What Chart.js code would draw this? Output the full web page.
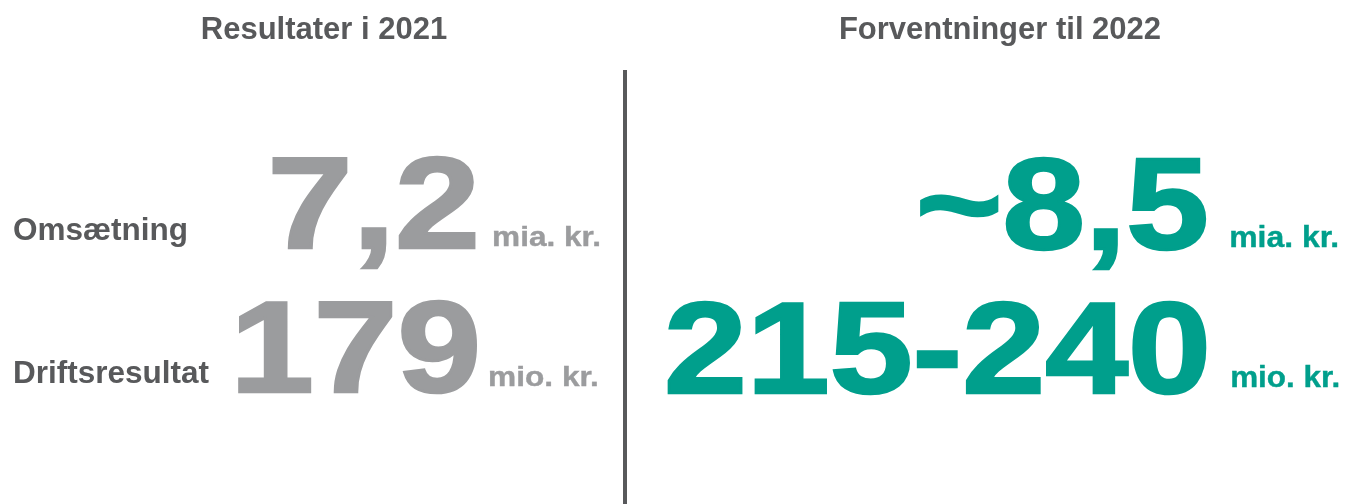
<!DOCTYPE html>
<html>
<head>
<meta charset="utf-8">
<script src="https://cdn.jsdelivr.net/npm/chart.js@4.4.1/dist/chart.umd.min.js"></script>
<style>
  html, body { margin: 0; padding: 0; background: #ffffff; }
  #wrap { width: 1346px; height: 504px; }
</style>
</head>
<body>
<div id="wrap"><canvas id="c" width="1346" height="504"></canvas></div>
<script>
// ---- data ----
const periodLabels = ['Resultater i 2021', 'Forventninger til 2022'];
const rowLabels = ['Omsætning', 'Driftsresultat'];
const results2021 = ['7,2', '179'];
const expectations2022 = ['~8,5', '215-240'];
const units = ['mia. kr.', 'mio. kr.'];

// ---- styling / layout (not data) ----
const FONT = '"Liberation Sans", Arial, Helvetica, sans-serif';
const labelColor = '#58595b';
const greyColor = '#9b9c9e';
const tealColor = '#009f8c';

const layout = {
  headerX: [324, 1000],
  headerBaseline: 39,
  headerSize: 31,
  rowLabelX: 13,
  rowLabelSize: 31.5,
  rowLabelDy: 11,
  divider: { x: 623, top: 70, width: 4 },
  bigSize: 129,
  bigStroke: 2.6,
  // per column, per row: [inkLeft, inkRight, baselineDy]
  values: [
    [[272, 476, 20], [238, 477, 21.5]],
    [[920, 1207, 21], [667, 1207, 22]]
  ],
  unitSize: [28.5, 30],
  unitStroke: 0.4,
  units: [
    [[493, 599, 17], [489, 597, 14]],
    [[1230, 1338, 18], [1231, 1339, 15]]
  ]
};

function fitText(ctx, text, size, left, right, baseline, color, lw) {
  ctx.save();
  ctx.font = 'bold ' + size + 'px ' + FONT;
  ctx.textAlign = 'left';
  ctx.textBaseline = 'alphabetic';
  ctx.fillStyle = color;
  ctx.strokeStyle = color;
  ctx.lineJoin = 'miter';
  ctx.miterLimit = 4;
  ctx.lineWidth = lw;
  const m = ctx.measureText(text);
  const abl = m.actualBoundingBoxLeft, abr = m.actualBoundingBoxRight;
  const sx = (right - left) / (abl + abr + lw);
  ctx.translate(left, baseline - lw / 2);
  ctx.scale(sx, 1);
  ctx.fillText(text, abl + lw / 2, 0);
  if (lw > 0) ctx.strokeText(text, abl + lw / 2, 0);
  ctx.restore();
}

const kpiPlugin = {
  id: 'kpi',
  afterDraw(chart) {
    const { ctx, scales: { x, y } } = chart;
    ctx.save();
    // headers
    ctx.font = 'bold ' + layout.headerSize + 'px ' + FONT;
    ctx.fillStyle = labelColor;
    ctx.textAlign = 'center';
    ctx.textBaseline = 'alphabetic';
    periodLabels.forEach((t, i) => {
      ctx.fillText(t, x.getPixelForValue(layout.headerX[i]), layout.headerBaseline);
    });
    // divider
    ctx.fillStyle = labelColor;
    const dx = x.getPixelForValue(layout.divider.x);
    ctx.fillRect(dx, layout.divider.top, layout.divider.width, chart.height - layout.divider.top);
    // row labels
    ctx.font = 'bold ' + layout.rowLabelSize + 'px ' + FONT;
    ctx.textAlign = 'left';
    rowLabels.forEach((t, i) => {
      ctx.fillText(t, x.getPixelForValue(layout.rowLabelX), y.getPixelForValue(i) + layout.rowLabelDy);
    });
    ctx.restore();
    // values
    const cols = [results2021, expectations2022];
    const colColors = [greyColor, tealColor];
    cols.forEach((vals, c) => {
      vals.forEach((v, r) => {
        const rowY = y.getPixelForValue(r);
        const [l, rr, dy] = layout.values[c][r];
        fitText(ctx, v, layout.bigSize, x.getPixelForValue(l), x.getPixelForValue(rr), rowY + dy, colColors[c], layout.bigStroke);
        const [ul, ur, udy] = layout.units[c][r];
        fitText(ctx, units[r], layout.unitSize[c], x.getPixelForValue(ul), x.getPixelForValue(ur), rowY + udy, colColors[c], layout.unitStroke);
      });
    });
  }
};

new Chart(document.getElementById('c'), {
  type: 'scatter',
  data: {
    labels: rowLabels,
    datasets: periodLabels.map((p, i) => ({
      label: p,
      data: [],
      pointRadius: 0
    }))
  },
  options: {
    responsive: false,
    animation: false,
    events: [],
    layout: { padding: { left: 0, right: 0, top: 229, bottom: 132 } },
    plugins: { legend: { display: false }, tooltip: { enabled: false } },
    scales: {
      x: { type: 'linear', min: 0, max: 1346, display: false },
      y: { type: 'category', labels: rowLabels, offset: false, display: false }
    }
  },
  plugins: [kpiPlugin]
});
</script>
</body>
</html>
